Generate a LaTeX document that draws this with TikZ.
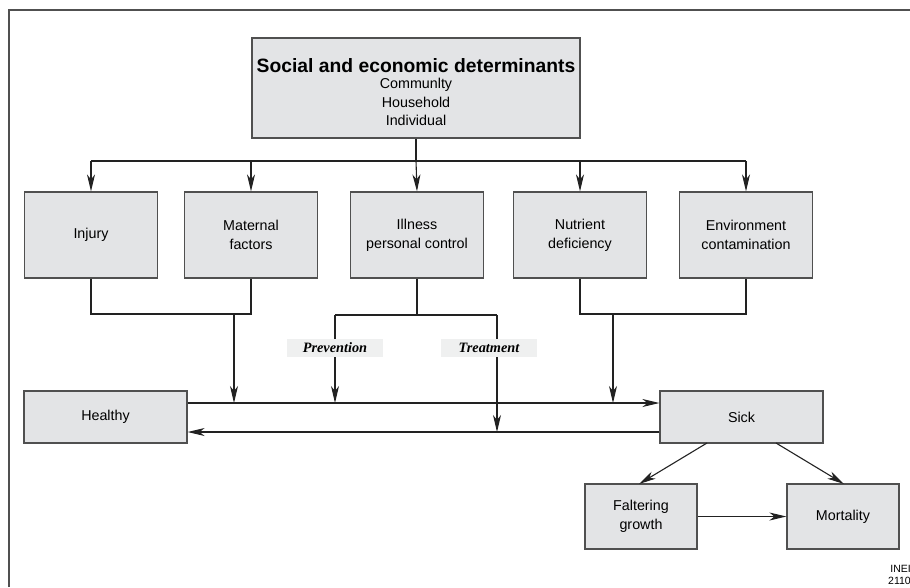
\documentclass[tikz,border=0pt]{standalone}
\usepackage{fontspec}
\setmainfont{Liberation Sans}
\newfontfamily\timesfont{Liberation Serif}
\usetikzlibrary{arrows.meta}
\definecolor{boxfill}{HTML}{E3E4E6}
\definecolor{boxline}{HTML}{505050}
\definecolor{lblfill}{HTML}{EFF0F0}
\definecolor{linecol}{HTML}{222222}
\begin{document}
\begin{tikzpicture}[x=1pt,y=-1pt,
  boxstyle/.style={draw=boxline, fill=boxfill, line width=1.2pt, inner sep=0pt, align=center,
    font=\fontsize{14.3}{19}\selectfont},
  factor/.style={boxstyle, minimum width=133pt, minimum height=86pt},
  state/.style={boxstyle, minimum width=163pt, minimum height=52pt},
  outc/.style={boxstyle, minimum width=112pt, minimum height=65pt},
  lbl/.style={fill=lblfill, inner sep=0pt, minimum width=96pt, minimum height=18pt,
    font=\timesfont\bfseries\itshape\fontsize{14.3}{16}\selectfont},
  conn/.style={draw=linecol, line width=1.1pt},
  arr/.style={conn, -{Stealth[length=17pt,width=8pt,inset=5pt]}}
]
\useasboundingbox (0,0) rectangle (910,587);
% open frame
\draw[draw=boxline, line width=1.1pt] (9,587) -- (9,10) -- (910,10);

% top box
\node[boxstyle, minimum width=328pt, minimum height=100pt] (top) at (416,88) {};
\node[align=center, inner sep=0pt, font=\fontsize{14.3}{18.5}\selectfont] (toptext) at (416,92)
  {{\bfseries\fontsize{19.3}{22}\selectfont Social and economic determinants}\\[-2pt]
   Communlty\\ Household\\ Individual};

% factor boxes
\node[factor] (inj) at (91,235) {Injury};
\node[factor] (mat) at (251,235) {Maternal\\factors};
\node[factor] (ill) at (417,235) {Illness\\personal control};
\node[factor] (nut) at (580,235) {Nutrient\\deficiency};
\node[factor] (env) at (746,235) {Environment\\contamination};

% distribution bus
\coordinate (bus) at (416,161);
\coordinate (busL) at (91,161);
\coordinate (busR) at (746,161);
\draw[conn] (top.south) -- (bus);
\draw[conn] (busL) -- (busR);
\draw[arr] (busL) -- (inj.north);
\draw[arr] (251,161) -- (mat.north);
\draw[arr] (bus) -- (ill.north);
\draw[arr] (580,161) -- (nut.north);
\draw[arr] (busR) -- (env.north);

% states
\node[state] (healthy) at (105.5,417) {Healthy};
\node[state] (sick) at (741.5,417) {Sick};
\draw[arr] (healthy.east |- 0,403) -- (sick.west |- 0,403);
\draw[arr] (sick.west |- 0,432) -- (healthy.east |- 0,432);

% left bracket
\coordinate (jl) at (234,314);
\draw[conn] (inj.south) |- (jl) -| (mat.south);
\draw[arr] (jl) -- (234,403);

% illness bracket
\coordinate (il) at (417,315);
\coordinate (pv) at (335,315);
\coordinate (tr) at (497,315);
\draw[conn] (ill.south) -- (il);
\draw[conn] (pv) -- (tr);
\draw[arr] (pv) -- (335,403);
\draw[arr] (tr) -- (497,432);
\node[lbl] (prev) at (335,348) {Prevention};
\node[lbl] (treat) at (489,348) {Treatment};

% right bracket
\coordinate (jr) at (613,314);
\draw[conn] (nut.south) |- (jr) -| (env.south);
\draw[arr] (jr) -- (613,403);

% outcomes
\node[outc] (falt) at (641,516.5) {Faltering\\growth};
\node[outc] (mort) at (843,516.5) {Mortality};
\draw[arr] (707,443) -- (639,484);
\draw[arr] (776,443) -- (844,484);
\draw[arr] (falt.east) -- (mort.west);

\node[anchor=north east, inner sep=0pt, align=right, font=\fontsize{10.5}{12}\selectfont] (code) at (911,565) {INEI\\2110};
\end{tikzpicture}
\end{document}
